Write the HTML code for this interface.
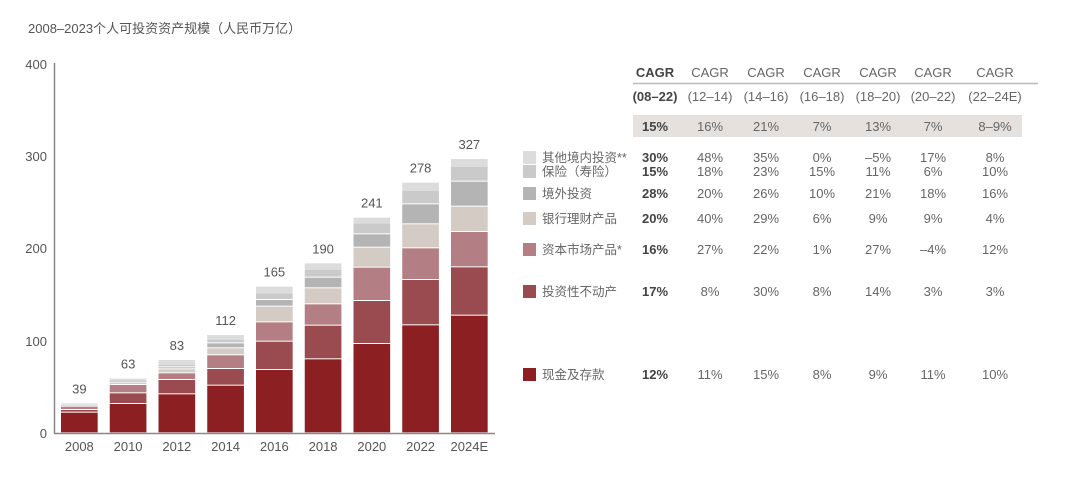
<!DOCTYPE html>
<html><head><meta charset="utf-8"><style>
body{margin:0;background:#fff;width:1080px;height:473px;overflow:hidden;font-family:"Liberation Sans","Noto Sans CJK SC",sans-serif;}
svg text{font-family:"Liberation Sans","Noto Sans CJK SC",sans-serif;}
</style></head><body>
<svg id="s" width="1080" height="473" xmlns="http://www.w3.org/2000/svg">
<text x="28" y="33" font-size="13" fill="#555">2008–2023个人可投资资产规模（人民币万亿）</text>
<g font-size="13" fill="#555" text-anchor="end">
<text x="47" y="69">400</text><text x="47" y="161">300</text><text x="47" y="253">200</text><text x="47" y="346">100</text><text x="47" y="438">0</text>
</g>
<line x1="54.5" y1="63" x2="54.5" y2="434" stroke="#888" stroke-width="1.5"/>
<line x1="54" y1="433.5" x2="495" y2="433.5" stroke="#888" stroke-width="1.5"/>
<g id="bars" transform="translate(0,140) scale(0.33333)"></g>
<g id="lab" font-size="13" fill="#555" text-anchor="middle"></g>
<g id="tbl" font-size="13" fill="#666" text-anchor="middle"></g>
</svg>
<script>
var ns="http://www.w3.org/2000/svg";
function el(p,t,a,tx){var e=document.createElementNS(ns,t);for(var k in a)e.setAttribute(k,a[k]);if(tx!==undefined)e.textContent=tx;p.appendChild(e);return e;}
var cols=["#8B1F22","#9A4B50","#B37F84","#D3CBC4","#B4B4B4","#CACACA","#DCDCDC"];
var D=[[880,818,810,800,795,793,791,790],[880,792,760,735,728,722,719,716],[880,763,720,700,688,682,674,660],[880,737,687,646,625,610,600,585],[880,690,605,547,500,480,460,440],[880,658,557,493,445,413,390,370],[880,612,483,383,323,283,250,233],[880,556,420,325,253,193,153,128],[880,527,382,276,200,125,80,57]];
var yrs=["2008","2010","2012","2014","2016","2018","2020","2022","2024E"],tot=["39","63","83","112","165","190","241","278","327"];
var g=document.getElementById("bars"),L=document.getElementById("lab");
D.forEach(function(b,i){var x=183+i*146.25;
for(var j=0;j<7;j++){var lo=b[j],hi=b[j+1];var h=lo-hi-(j<6?3:0);if(j==0)h=lo-hi-3;if(h<1)h=Math.max(lo-hi-1,1);el(g,"rect",{x:x,y:hi,width:110,height:h,fill:cols[j]});}
var cx=(x+55)/3;el(L,"text",{x:cx,y:451},yrs[i]);el(L,"text",{x:cx,y:140+b[7]/3-10},tot[i]);});
var T=document.getElementById("tbl");
var cx=[655,710,766,822,878,933,995];
el(T,"rect",{x:633,y:115,width:389,height:22,fill:"#E4E1DF"});
el(T,"line",{x1:633,y1:83.5,x2:1038,y2:83.5,stroke:"#BBB","stroke-width":1.5});
var h2=["(08–22)","(12–14)","(14–16)","(16–18)","(18–20)","(20–22)","(22–24E)"];
cx.forEach(function(c,i){var b=i==0?{"font-weight":"bold",fill:"#444"}:{};
el(T,"text",Object.assign({x:c,y:77},b),"CAGR");el(T,"text",Object.assign({x:c,y:101},b),h2[i]);});
var rows=[[131,["15%","16%","21%","7%","13%","7%","8–9%"],null,""],
[162,["30%","48%","35%","0%","–5%","17%","8%"],"#DCDCDC","其他境内投资**"],
[176,["15%","18%","23%","15%","11%","6%","10%"],"#CACACA","保险（寿险）"],
[198,["28%","20%","26%","10%","21%","18%","16%"],"#B4B4B4","境外投资"],
[223,["20%","40%","29%","6%","9%","9%","4%"],"#D3CBC4","银行理财产品"],
[254,["16%","27%","22%","1%","27%","–4%","12%"],"#B37F84","资本市场产品*"],
[296,["17%","8%","30%","8%","14%","3%","3%"],"#9A4B50","投资性不动产"],
[379,["12%","11%","15%","8%","9%","11%","10%"],"#8B1F22","现金及存款"]];
rows.forEach(function(r){r[1].forEach(function(v,i){var a={x:cx[i],y:r[0]};if(i==0){a["font-weight"]="bold";a.fill="#444";}el(T,"text",a,v);});
if(r[2]){el(T,"rect",{x:523,y:r[0]-11,width:13,height:13,fill:r[2]});el(T,"text",{x:542,y:r[0],"text-anchor":"start","font-size":12.5},r[3]);}});
</script>
</body></html>
